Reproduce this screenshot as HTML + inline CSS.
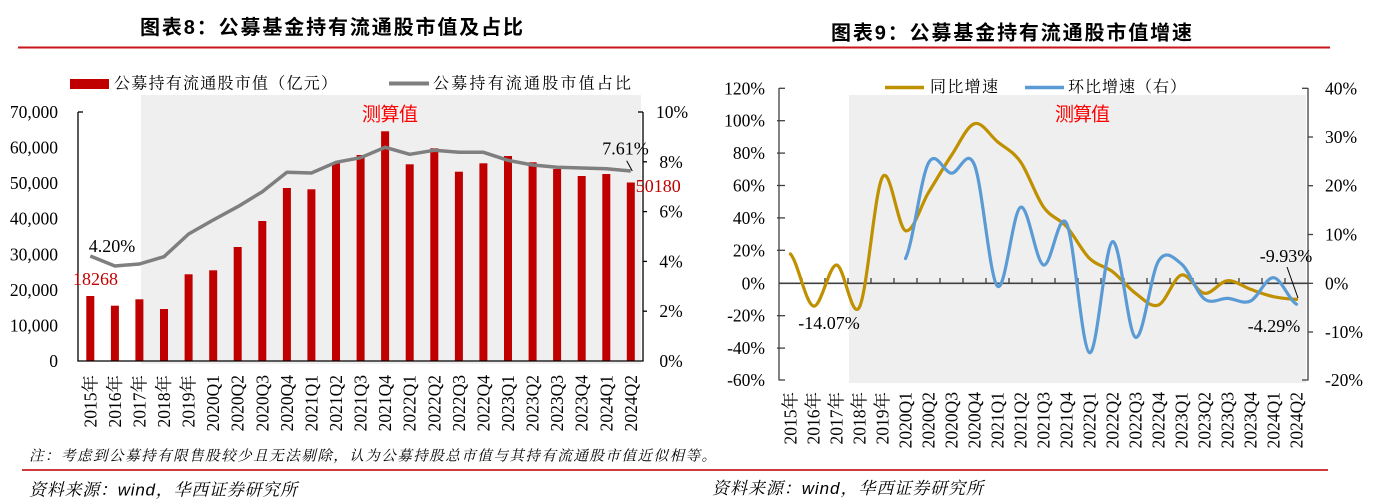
<!DOCTYPE html>
<html><head><meta charset="utf-8"><style>
html,body{margin:0;padding:0;background:#fff;}
svg{display:block;}
.t{font-family:"Liberation Serif","Noto Serif CJK SC",serif;font-size:17.5px;fill:#000;}
.cj{font-family:"Liberation Serif","Noto Serif CJK SC",serif;font-size:16px;fill:#000;}
.ti{font-family:"Liberation Sans","Noto Sans CJK SC",sans-serif;font-size:20px;font-weight:bold;fill:#000;}
.cs{font-family:"Liberation Sans","Noto Sans CJK SC",sans-serif;font-size:19px;fill:#FF0000;}
.ft{font-family:"Liberation Sans","Noto Serif CJK SC",serif;font-style:italic;fill:#000;}
</style></head><body>
<svg width="1376" height="499" viewBox="0 0 1376 499" xmlns="http://www.w3.org/2000/svg">
<rect width="1376" height="499" fill="#fff"/>

<!-- Titles -->
<text class="ti" x="140" y="28" dominant-baseline="central" textLength="383" lengthAdjust="spacing">图表8：公募基金持有流通股市值及占比</text>
<text class="ti" x="831" y="33.5" dominant-baseline="central" textLength="361" lengthAdjust="spacing">图表9：公募基金持有流通股市值增速</text>
<line x1="18" y1="47.5" x2="1330" y2="47.5" stroke="#C8161D" stroke-width="2"/>

<!-- ================= LEFT CHART ================= -->
<rect x="141" y="95" width="500" height="269" fill="#EFEFEF"/>
<!-- legend -->
<rect x="70" y="79" width="39" height="10" fill="#C00000"/>
<text class="cj" x="114" y="84" dominant-baseline="central" textLength="223" lengthAdjust="spacing">公募持有流通股市值（亿元）</text>
<line x1="389" y1="83.5" x2="429" y2="83.5" stroke="#7F7F7F" stroke-width="4"/>
<text class="cj" x="433" y="84" dominant-baseline="central" textLength="198" lengthAdjust="spacing">公募持有流通股市值占比</text>
<text class="cs" x="362" y="115" dominant-baseline="central" textLength="56" lengthAdjust="spacing">测算值</text>

<!-- bars -->
<g fill="#C00000">
<rect x="86.3" y="296" width="8" height="65"/>
<rect x="110.9" y="305.7" width="8" height="55.3"/>
<rect x="135.4" y="299.3" width="8" height="61.7"/>
<rect x="160" y="309" width="8" height="52"/>
<rect x="184.6" y="274.3" width="8" height="86.7"/>
<rect x="209.2" y="270.3" width="8" height="90.7"/>
<rect x="233.7" y="247" width="8" height="114"/>
<rect x="258.3" y="221" width="8" height="140"/>
<rect x="282.9" y="188" width="8" height="173"/>
<rect x="307.4" y="189.3" width="8" height="171.7"/>
<rect x="332" y="163.3" width="8" height="197.7"/>
<rect x="356.6" y="155" width="8" height="206"/>
<rect x="381.1" y="131.3" width="8" height="229.7"/>
<rect x="405.7" y="164.3" width="8" height="196.7"/>
<rect x="430.3" y="148.3" width="8" height="212.7"/>
<rect x="454.9" y="171.7" width="8" height="189.3"/>
<rect x="479.4" y="163.3" width="8" height="197.7"/>
<rect x="504" y="156" width="8" height="205"/>
<rect x="528.6" y="162.3" width="8" height="198.7"/>
<rect x="553.1" y="169" width="8" height="192"/>
<rect x="577.7" y="176" width="8" height="185"/>
<rect x="602.3" y="174" width="8" height="187"/>
<rect x="626.8" y="182.5" width="8" height="178.5"/>
</g>
<!-- line -->
<polyline fill="none" stroke="#7F7F7F" stroke-width="3.5" stroke-linejoin="round" points="90.3,256 114.9,266 139.4,264 164,256.7 188.6,234 213.2,220 237.7,206.7 262.3,191.7 286.9,172.3 311.4,173 336,162.3 360.6,157.7 385.1,147.3 409.7,154.3 434.3,150.3 458.9,152.3 483.4,152.3 508,160.3 532.6,165 557.1,167.3 581.7,168 606.3,168.7 630.8,171"/>

<!-- axes -->
<g stroke="#000" stroke-width="1.3" fill="none">
<line x1="78" y1="112" x2="78" y2="361.5"/>
<line x1="78" y1="112" x2="83" y2="112"/>
<line x1="643" y1="112" x2="643" y2="361.5"/>
<line x1="638" y1="112" x2="643" y2="112"/>
<line x1="643" y1="161.8" x2="647" y2="161.8"/>
<line x1="643" y1="211.6" x2="647" y2="211.6"/>
<line x1="643" y1="261.4" x2="647" y2="261.4"/>
<line x1="643" y1="311.2" x2="647" y2="311.2"/>
<line x1="77.4" y1="361" x2="643.6" y2="361"/>
</g>

<!-- y labels left -->
<g class="t" text-anchor="end" dominant-baseline="central">
<text x="58" y="112">70,000</text>
<text x="58" y="147.6">60,000</text>
<text x="58" y="183.1">50,000</text>
<text x="58" y="218.7">40,000</text>
<text x="58" y="254.3">30,000</text>
<text x="58" y="289.9">20,000</text>
<text x="58" y="325.4">10,000</text>
<text x="58" y="361">0</text>
</g>
<g class="t" text-anchor="middle" dominant-baseline="central">
<text x="672" y="112">10%</text>
<text x="671" y="161.8">8%</text>
<text x="671" y="211.6">6%</text>
<text x="671" y="261.4">4%</text>
<text x="671" y="311.2">2%</text>
<text x="671" y="361">0%</text>
</g>

<!-- data labels left -->
<text class="t" style="font-size:18px" x="112" y="246" text-anchor="middle" dominant-baseline="central">4.20%</text>
<text class="t" style="font-size:18px;fill:#C00000" x="95.5" y="279" text-anchor="middle" dominant-baseline="central">18268</text>
<text class="t" style="font-size:18px" x="625.5" y="148.5" text-anchor="middle" dominant-baseline="central">7.61%</text>
<line x1="626.7" y1="160.7" x2="632.3" y2="171" stroke="#000" stroke-width="1"/>
<text class="t" style="font-size:18px;fill:#C00000" x="658.3" y="186" text-anchor="middle" dominant-baseline="central">50180</text>

<!-- x labels left -->
<g class="t" text-anchor="end" dominant-baseline="central">
<text transform="translate(90.3,375) rotate(-90)">2015年</text>
<text transform="translate(114.9,375) rotate(-90)">2016年</text>
<text transform="translate(139.4,375) rotate(-90)">2017年</text>
<text transform="translate(164,375) rotate(-90)">2018年</text>
<text transform="translate(188.6,375) rotate(-90)">2019年</text>
<text transform="translate(213.2,375) rotate(-90)">2020Q1</text>
<text transform="translate(237.7,375) rotate(-90)">2020Q2</text>
<text transform="translate(262.3,375) rotate(-90)">2020Q3</text>
<text transform="translate(286.9,375) rotate(-90)">2020Q4</text>
<text transform="translate(311.4,375) rotate(-90)">2021Q1</text>
<text transform="translate(336,375) rotate(-90)">2021Q2</text>
<text transform="translate(360.6,375) rotate(-90)">2021Q3</text>
<text transform="translate(385.1,375) rotate(-90)">2021Q4</text>
<text transform="translate(409.7,375) rotate(-90)">2022Q1</text>
<text transform="translate(434.3,375) rotate(-90)">2022Q2</text>
<text transform="translate(458.9,375) rotate(-90)">2022Q3</text>
<text transform="translate(483.4,375) rotate(-90)">2022Q4</text>
<text transform="translate(508,375) rotate(-90)">2023Q1</text>
<text transform="translate(532.6,375) rotate(-90)">2023Q2</text>
<text transform="translate(557.1,375) rotate(-90)">2023Q3</text>
<text transform="translate(581.7,375) rotate(-90)">2023Q4</text>
<text transform="translate(606.3,375) rotate(-90)">2024Q1</text>
<text transform="translate(630.8,375) rotate(-90)">2024Q2</text>
</g>

<!-- ================= RIGHT CHART ================= -->
<rect x="849" y="95" width="457" height="288" fill="#EFEFEF"/>
<!-- legend -->
<line x1="885" y1="87.5" x2="924" y2="87.5" stroke="#BF9000" stroke-width="3.5"/>
<text class="cj" x="930" y="87.5" dominant-baseline="central" textLength="68" lengthAdjust="spacing">同比增速</text>
<line x1="1025" y1="87.5" x2="1064" y2="87.5" stroke="#5B9BD5" stroke-width="3.5"/>
<text class="cj" x="1068" y="87.5" dominant-baseline="central" textLength="118" lengthAdjust="spacing">环比增速（右）</text>
<text class="cs" x="1055" y="115" dominant-baseline="central" textLength="55" lengthAdjust="spacing">测算值</text>

<!-- axes -->
<g stroke="#404040" stroke-width="1.3" fill="none">
<line x1="779" y1="88" x2="779" y2="380.5"/>
<line x1="779" y1="88.3" x2="785" y2="88.3"/>
<line x1="777" y1="120.7" x2="785" y2="120.7"/>
<line x1="777" y1="153.1" x2="785" y2="153.1"/>
<line x1="777" y1="185.5" x2="785" y2="185.5"/>
<line x1="777" y1="217.9" x2="785" y2="217.9"/>
<line x1="777" y1="250.3" x2="785" y2="250.3"/>
<line x1="777" y1="315.7" x2="785" y2="315.7"/>
<line x1="777" y1="348.1" x2="785" y2="348.1"/>
<line x1="779" y1="380" x2="785" y2="380"/>
<line x1="1308" y1="88" x2="1308" y2="380.5"/>
<line x1="1302" y1="88.3" x2="1308" y2="88.3"/>
<line x1="1308" y1="137" x2="1313" y2="137"/>
<line x1="1308" y1="185.7" x2="1313" y2="185.7"/>
<line x1="1308" y1="234.5" x2="1313" y2="234.5"/>
<line x1="1308" y1="283.3" x2="1313" y2="283.3"/>
<line x1="1308" y1="332" x2="1313" y2="332"/>
<line x1="1302" y1="380" x2="1308" y2="380"/>
<line x1="779" y1="283.3" x2="1308" y2="283.3" stroke-width="1.6"/>
<path d="M802,283 v-5 M825,283 v-5 M848,283 v-5 M871,283 v-5 M894,283 v-5 M917,283 v-5 M940,283 v-5 M963,283 v-5 M986,283 v-5 M1009,283 v-5 M1032,283 v-5 M1055,283 v-5 M1078,283 v-5 M1101,283 v-5 M1124,283 v-5 M1147,283 v-5 M1170,283 v-5 M1193,283 v-5 M1216,283 v-5 M1239,283 v-5 M1262,283 v-5 M1285,283 v-5"/>
</g>

<!-- series -->
<path fill="none" stroke="#BF9000" stroke-width="3.2" stroke-linejoin="round" stroke-linecap="round" d="M790.5,254 C798.2,262.7 805.8,304.3 813.5,306.1 C821.2,307.9 828.8,264.9 836.5,265 C844.2,265.2 851.8,321.7 859.5,307 C867.2,292.3 874.8,189.7 882.5,177 C890.2,164.3 897.8,228.1 905.5,230.7 C913.2,233.3 920.8,205.2 928.5,192.6 C936.2,180 943.8,166.8 951.5,155.3 C959.2,143.8 966.8,126 974.5,123.7 C982.2,121.4 989.8,135.4 997.5,141.7 C1005.2,148.1 1012.8,150.9 1020.5,161.8 C1028.2,172.7 1035.8,196.2 1043.5,207 C1051.2,217.8 1058.8,218 1066.5,226.6 C1074.2,235.2 1081.8,250.9 1089.5,258.4 C1097.2,265.9 1104.8,265.8 1112.5,271.6 C1120.2,277.4 1127.8,287.7 1135.5,293.3 C1143.2,298.9 1150.8,308.1 1158.5,305 C1166.2,302 1173.8,277 1181.5,275 C1189.2,273.1 1196.8,292.4 1204.5,293.3 C1212.2,294.3 1219.8,281.4 1227.5,280.7 C1235.2,280 1242.8,286.6 1250.5,289.3 C1258.2,292 1265.8,295 1273.5,296.7 C1281.2,298.4 1288.8,299 1296.5,299.4"/>
<path fill="none" stroke="#5B9BD5" stroke-width="3.2" stroke-linejoin="round" stroke-linecap="round" d="M905.5,258.5 C913.2,242.6 920.8,177.2 928.5,163 C936.2,148.8 943.8,172.9 951.5,173.2 C959.2,173.5 966.8,146.2 974.5,165 C982.2,183.8 989.8,279.2 997.5,286.2 C1005.2,293.3 1012.8,210.8 1020.5,207.3 C1028.2,203.8 1035.8,262.3 1043.5,265 C1051.2,267.7 1058.8,208.7 1066.5,223.3 C1074.2,237.9 1081.8,349.6 1089.5,352.7 C1097.2,355.8 1104.8,244.3 1112.5,241.7 C1120.2,239.1 1127.8,334.1 1135.5,337.3 C1143.2,340.5 1150.8,273.2 1158.5,261 C1166.2,248.8 1173.8,257.7 1181.5,264 C1189.2,270.3 1196.8,293.3 1204.5,299 C1212.2,304.7 1219.8,298.1 1227.5,298.4 C1235.2,298.7 1242.8,304.5 1250.5,301 C1258.2,297.6 1265.8,277.2 1273.5,277.7 C1281.2,278.2 1288.8,299.8 1296.5,304.2"/>

<!-- y labels right chart -->
<g class="t" text-anchor="end" dominant-baseline="central">
<text x="765" y="88.3">120%</text>
<text x="765" y="120.7">100%</text>
<text x="765" y="153.1">80%</text>
<text x="765" y="185.5">60%</text>
<text x="765" y="217.9">40%</text>
<text x="765" y="250.3">20%</text>
<text x="765" y="283.3">0%</text>
<text x="765" y="315.7">-20%</text>
<text x="765" y="348.1">-40%</text>
<text x="765" y="380">-60%</text>
</g>
<g class="t" text-anchor="start" dominant-baseline="central">
<text x="1325" y="88.3">40%</text>
<text x="1325" y="137">30%</text>
<text x="1325" y="185.7">20%</text>
<text x="1325" y="234.5">10%</text>
<text x="1325" y="283.3">0%</text>
<text x="1325" y="332">-10%</text>
<text x="1325" y="380">-20%</text>
</g>

<!-- data labels right -->
<text class="t" style="font-size:18px" x="829" y="323" text-anchor="middle" dominant-baseline="central">-14.07%</text>
<text class="t" style="font-size:18px" x="1286" y="256" text-anchor="middle" dominant-baseline="central">-9.93%</text>
<line x1="1287" y1="267" x2="1298" y2="298" stroke="#000" stroke-width="1"/>
<text class="t" style="font-size:18px" x="1274" y="326" text-anchor="middle" dominant-baseline="central">-4.29%</text>

<!-- x labels right -->
<g class="t" text-anchor="end" dominant-baseline="central">
<text transform="translate(790.5,392) rotate(-90)">2015年</text>
<text transform="translate(813.5,392) rotate(-90)">2016年</text>
<text transform="translate(836.5,392) rotate(-90)">2017年</text>
<text transform="translate(859.5,392) rotate(-90)">2018年</text>
<text transform="translate(882.5,392) rotate(-90)">2019年</text>
<text transform="translate(905.5,392) rotate(-90)">2020Q1</text>
<text transform="translate(928.5,392) rotate(-90)">2020Q2</text>
<text transform="translate(951.5,392) rotate(-90)">2020Q3</text>
<text transform="translate(974.5,392) rotate(-90)">2020Q4</text>
<text transform="translate(997.5,392) rotate(-90)">2021Q1</text>
<text transform="translate(1020.5,392) rotate(-90)">2021Q2</text>
<text transform="translate(1043.5,392) rotate(-90)">2021Q3</text>
<text transform="translate(1066.5,392) rotate(-90)">2021Q4</text>
<text transform="translate(1089.5,392) rotate(-90)">2022Q1</text>
<text transform="translate(1112.5,392) rotate(-90)">2022Q2</text>
<text transform="translate(1135.5,392) rotate(-90)">2022Q3</text>
<text transform="translate(1158.5,392) rotate(-90)">2022Q4</text>
<text transform="translate(1181.5,392) rotate(-90)">2023Q1</text>
<text transform="translate(1204.5,392) rotate(-90)">2023Q2</text>
<text transform="translate(1227.5,392) rotate(-90)">2023Q3</text>
<text transform="translate(1250.5,392) rotate(-90)">2023Q4</text>
<text transform="translate(1273.5,392) rotate(-90)">2024Q1</text>
<text transform="translate(1296.5,392) rotate(-90)">2024Q2</text>
</g>

<!-- footer -->
<text class="ft" style="font-size:14.5px" x="29" y="456.5" dominant-baseline="central" textLength="687" lengthAdjust="spacing">注：考虑到公募持有限售股较少且无法剔除，认为公募持股总市值与其持有流通股市值近似相等。</text>
<line x1="22" y1="470" x2="1328" y2="470" stroke="#D0393E" stroke-width="2"/>
<text class="ft" style="font-size:17px" x="29" y="490" dominant-baseline="central" textLength="268" lengthAdjust="spacing">资料来源：wind，华西证券研究所</text>
<text class="ft" style="font-size:17px" x="712" y="488.5" dominant-baseline="central" textLength="271" lengthAdjust="spacing">资料来源：wind，华西证券研究所</text>
</svg>
</body></html>
